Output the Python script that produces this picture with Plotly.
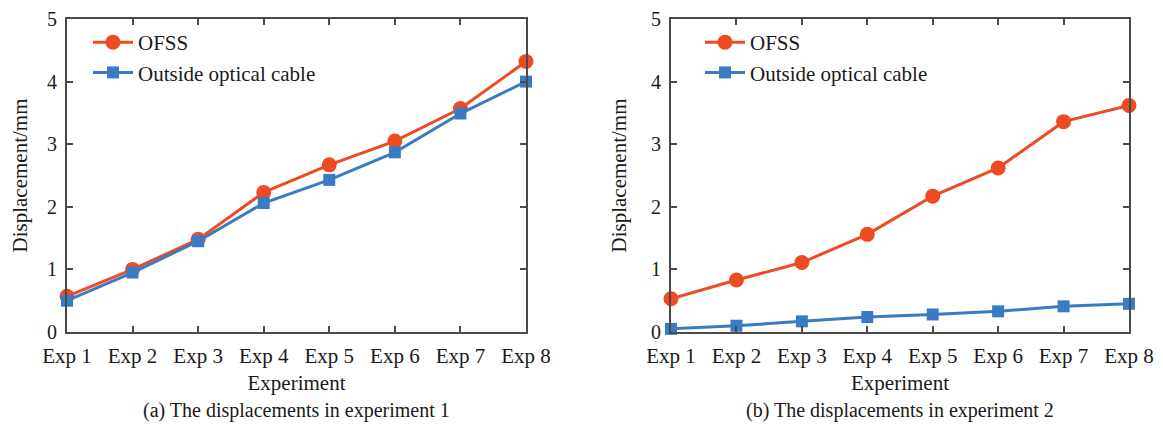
import plotly.graph_objects as go

categories = ["Exp 1", "Exp 2", "Exp 3", "Exp 4", "Exp 5", "Exp 6", "Exp 7", "Exp 8"]
series_names = ["OFSS", "Outside optical cable"]
exp1_ofss = [0.57, 1.00, 1.48, 2.23, 2.67, 3.05, 3.57, 4.32]
exp1_cable = [0.50, 0.95, 1.45, 2.06, 2.43, 2.87, 3.49, 4.00]
exp2_ofss = [0.53, 0.83, 1.11, 1.56, 2.17, 2.62, 3.36, 3.62]
exp2_cable = [0.05, 0.10, 0.17, 0.24, 0.28, 0.33, 0.41, 0.45]
y_ticks = [0, 1, 2, 3, 4, 5]
captions = ["(a) The displacements in experiment 1", "(b) The displacements in experiment 2"]
x_title = "Experiment"
y_title = "Displacement/mm"

RED = "#EE4A24"
BLUE = "#3A7CC4"
FONT = "Liberation Serif, Times New Roman, serif"
TXT = "#1a1a1a"

W, H = 1163, 432
OFF = 8  # page body margin offset

def fx(p):
    return (p - OFF) / W

def fy(p):
    return (H - (p - OFF)) / H

y_dom = [fy(332), fy(19)]
xdoms = [[fx(67), fx(526)], [fx(671), fx(1129)]]

fig = go.Figure()

panels = [
    ("x", "y", "legend", exp1_ofss, exp1_cable),
    ("x2", "y2", "legend2", exp2_ofss, exp2_cable),
]
for xa, ya, lg, ofss, cable in panels:
    fig.add_trace(go.Scatter(
        x=categories, y=ofss, name=series_names[0], xaxis=xa, yaxis=ya, legend=lg,
        mode="lines+markers", line=dict(color=RED, width=3),
        marker=dict(symbol="circle", size=15, color=RED), cliponaxis=False))
    fig.add_trace(go.Scatter(
        x=categories, y=cable, name=series_names[1], xaxis=xa, yaxis=ya, legend=lg,
        mode="lines+markers", line=dict(color=BLUE, width=3),
        marker=dict(symbol="square", size=12, color=BLUE), cliponaxis=False))

axis_common = dict(
    showline=True, linecolor="#4a4a4a", linewidth=2, mirror="ticks",
    ticks="inside", ticklen=6, tickwidth=2, tickcolor="#4a4a4a",
    showgrid=False, zeroline=False, automargin=False, ticklabeloverflow="allow",
)

for i, (xn, yn) in enumerate([("xaxis", "yaxis"), ("xaxis2", "yaxis2")]):
    anchor_y = "y" if i == 0 else "y2"
    anchor_x = "x" if i == 0 else "x2"
    fig.layout[xn] = dict(
        domain=xdoms[i], anchor=anchor_y, type="category", range=[0, 7],
        ticklabelstandoff=4, tickfont=dict(family=FONT, size=21, color=TXT),
        title=dict(text=x_title, font=dict(family=FONT, size=21, color=TXT), standoff=8),
        **axis_common)
    fig.layout[yn] = dict(
        domain=y_dom, anchor=anchor_x, range=[0, 5], tickvals=y_ticks,
        ticklabelstandoff=4, tickfont=dict(family=FONT, size=20, color=TXT),
        title=dict(text=y_title, font=dict(family=FONT, size=21, color=TXT), standoff=19),
        **axis_common)

legend_common = dict(
    font=dict(family=FONT, size=21, color=TXT), bgcolor="rgba(0,0,0,0)",
    borderwidth=0, xanchor="left", yanchor="top", tracegroupgap=0, itemwidth=40,
)
fig.update_layout(
    legend=dict(x=fx(88), y=fy(22), **legend_common),
    legend2=dict(x=fx(700), y=fy(22), **legend_common),
)

for i, cap in enumerate(captions):
    cx = (sum(xdoms[i])) / 2
    fig.add_annotation(text=cap, x=cx, y=fy(410), xref="paper", yref="paper",
                       showarrow=False, xanchor="center", yanchor="middle",
                       font=dict(family=FONT, size=20, color=TXT))

fig.update_layout(
    width=W, height=H, margin=dict(l=0, r=0, t=0, b=0),
    paper_bgcolor="white", plot_bgcolor="white", showlegend=True,
)

fig.write_html("out.html")
